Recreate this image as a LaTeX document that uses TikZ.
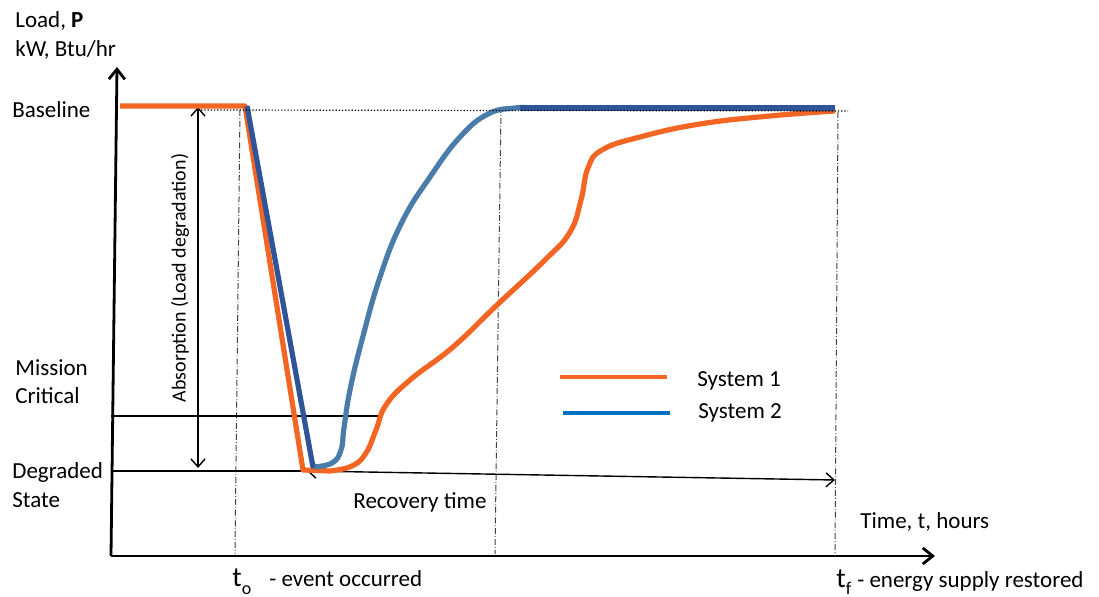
\documentclass[tikz,border=0pt]{standalone}
\usepackage{fontspec}
\setmainfont{Carlito}
\usepackage{tikz}
\usetikzlibrary{positioning}
\usetikzlibrary{arrows.meta}
\definecolor{sysorange}{RGB}{242,101,34}
\definecolor{sysblue}{RGB}{47,84,152}
\definecolor{syssteel}{RGB}{74,124,170}
\definecolor{legblue}{RGB}{0,112,192}
\newcommand{\tmark}[1]{{\fontsize{14}{16}\selectfont t}\raisebox{-0.7ex}{\fontsize{9}{11}\selectfont #1}}

\begin{document}
\begin{tikzpicture}
          [x=0.5pt, y=-0.5pt,
           every node/.style={inner sep=0pt, font=\fontsize{11.5}{14}\selectfont},
           axisline/.style={line width=1.4pt, -{Straight Barb[length=5pt, width=8pt]}},
           levelline/.style={line width=1pt},
           guide/.style={densely dash dot, line width=0.5pt, black!75},
           span/.style={line width=0.7pt, {Straight Barb[length=4pt, width=7pt]}-{Straight Barb[length=4pt, width=7pt]}},
           sys1/.style={line width=2.6pt, sysorange, line join=round},
           sys2/.style={line width=2.6pt, sysblue, line join=round},
           sys2rec/.style={line width=2.6pt, syssteel, line join=round}]
          \useasboundingbox (0,0) rectangle (1099,597);

          % axes
          \coordinate (origin) at (111,556);
          \coordinate (ytip) at (117,67);
          \coordinate (xtip) at (935,556);
          \draw[axisline] (origin) -- (ytip);
          \draw[axisline] (origin) -- (xtip);

          % axis and level labels
          \node (load) [anchor=west, align=left, font=\fontsize{11.5}{14.5}\selectfont] at (15,35) {Load, \textbf{P}\\kW, Btu/hr};
          \node (base) [anchor=west] at (12,110) {Baseline};
          \node (mission) [anchor=west, align=left] at (15,382) {Mission\\Critical};
          \node (degr) [anchor=west, align=left, font=\fontsize{11.5}{14.5}\selectfont] at (12,485) {Degraded\\State};
          \node (time) [anchor=west] at (860,522) {Time, t, hours};
          \node (tolbl) [anchor=west] at (232,582) {\tmark{o}\hspace{9pt}- event occurred};
          \node (tflbl) [anchor=west] at (836,582) {\tmark{f}\hspace{3pt}- energy supply restored};

          % guide lines
          \coordinate (to top) at (240,110);
          \coordinate (to bot) at (235,554);
          \coordinate (tm top) at (501,107);
          \coordinate (tm bot) at (495,554);
          \coordinate (tf top) at (838,112);
          \coordinate (tf bot) at (835,556);
          \draw[guide] (to top) -- (to bot);
          \draw[guide] (tm top) -- (tm bot);
          \draw[guide] (tf top) -- (tf bot);

          % levels
          \coordinate (crit l) at (111,416);
          \coordinate (crit r) at (380,416);
          \coordinate (deg l) at (111,471);
          \coordinate (deg r) at (307,471);
          \coordinate (rec end) at (835,480);
          \draw[levelline] (crit l) -- (crit r);
          \draw[levelline] (deg l) -- (deg r);
          \draw[span] (deg r) -- (rec end);
          \node (rec) [anchor=west] at (353,502) {Recovery time};

          % absorption
          \coordinate (abs top) at (198,107);
          \coordinate (abs bot) at (198,468);
          \draw[span] (abs top) -- (abs bot);
          \node (abs) [rotate=90, font=\fontsize{10}{12}\selectfont] at (180,278) {Absorption (Load degradation)};

          % system 1
          \draw[sys1] (120,106) -- (245,106) -- (303,470) -- (330,471)
                plot[smooth, tension=0.75] coordinates {(330,471) (352,466) (366,453) (376,430)
                (386,405) (410,380) (453,347) (497,305) (545,260) (570,232) (581,200)
                (588,168) (602,150) (640,137) (700,124) (770,116) (835,111)};

          % system 2
          \draw[sys2rec] plot[smooth, tension=0.75] coordinates {(313,467) (332,463) (341,450)
                (344,428) (350,390) (362,340) (380,277) (402,222) (430,177) (460,137)
                (488,114) (515,108) (530,108)};
          \draw[sys2] (247,106) -- (313,467);
          \draw[sys2] (520,108) -- (835,108);

          % baseline
          \draw[densely dotted, line width=0.6pt] (base.east -| abs top) -- (848,111);

          % legend
          \node (leg1) [anchor=west] at (697,381) {System 1};
          \node (leg2) [anchor=west] at (698,413) {System 2};
          \draw[line width=2.4pt, sysorange] (560,377) -- (667,377);
          \draw[line width=2.4pt, legblue] (563,413) -- (670,413);
\end{tikzpicture}
\end{document}
